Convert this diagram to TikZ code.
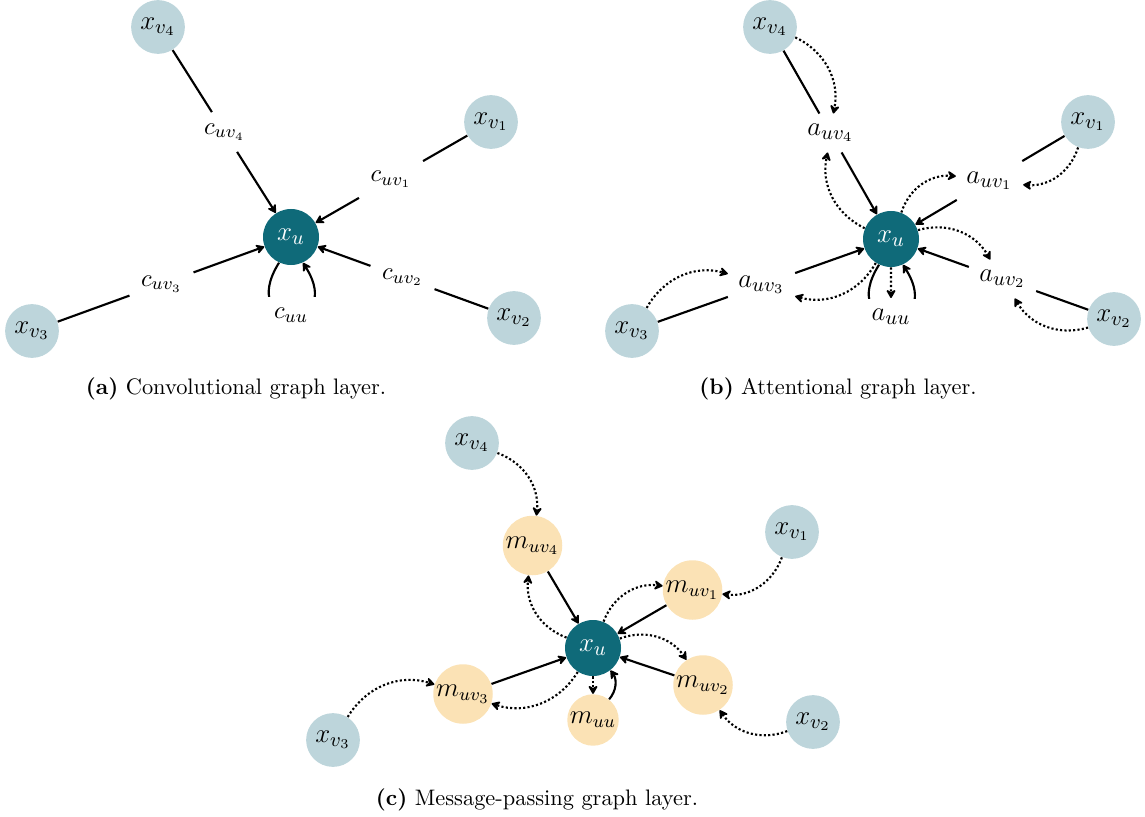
\documentclass[tikz,border=0pt]{standalone}
\usetikzlibrary{arrows.meta,calc}
\definecolor{nodeblue}{HTML}{BDD5DB}
\definecolor{centerteal}{HTML}{0F6A79}
\definecolor{msgpeach}{HTML}{FBE2B5}
\begin{document}
\begin{tikzpicture}[
  x=0.4464pt, y=0.4464pt,
  >={Stealth[length=4.6pt,width=5.2pt,inset=1.6pt,round]},
  ln/.style={line width=0.95pt},
  arr/.style={ln,->},
  dots/.style={ln,->,densely dotted},
  feat/.style={circle, fill=nodeblue, minimum size=24pt, inner sep=0pt, font=\fontsize{13}{15}\selectfont},
  hub/.style={circle, fill=centerteal, text=white, minimum size=25pt, inner sep=0pt, font=\fontsize{13}{15}\selectfont},
  coef/.style={inner sep=5pt, font=\fontsize{11}{13}\selectfont},
  att/.style={inner sep=4.5pt, font=\fontsize{13}{15}\selectfont},
  msg/.style={circle, fill=msgpeach, minimum size=26pt, inner sep=0.5pt, font=\fontsize{11.5}{13}\selectfont},
  subcap/.style={font=\normalsize}
]
\useasboundingbox (0,0) rectangle (1145,-817);

% ---------- (a) convolutional layer ----------
\node[hub]  (au)  at (291,-237) {$x_u$};
\node[feat] (av4) at (158,-27)  {$x_{v_4}$};
\node[feat] (av1) at (491,-122) {$x_{v_1}$};
\node[feat] (av3) at (32,-331)  {$x_{v_3}$};
\node[feat] (av2) at (514,-318) {$x_{v_2}$};
\node[coef] (ac4) at ($(av4)!0.5!(au)$) {$c_{uv_4}$};
\node[coef] (ac1) at ($(av1)!0.5!(au)$) {$c_{uv_1}$};
\node[coef] (ac3) at ($(av3)!0.5!(au)$) {$c_{uv_3}$};
\node[coef] (ac2) at ($(av2)!0.5!(au)$) {$c_{uv_2}$};
\foreach \k in {1,2,3,4} {
  \draw[ln] (av\k) -- (ac\k);
  \draw[arr] (ac\k) -- (au);
}
\draw[arr] (au.-115) .. controls +(-122:82) and +(-58:82) .. node[pos=0.5, coef, fill=white] (acuu) {$c_{uu}$} (au.-65);
\node[subcap] (capa) at (236,-389) {\textbf{(a)}\ Convolutional graph layer.};

% ---------- (b) attentional layer ----------
\node[hub]  (bu)  at (891,-239) {$x_u$};
\node[feat] (bv4) at (770,-27)  {$x_{v_4}$};
\node[feat] (bv1) at (1088,-122) {$x_{v_1}$};
\node[feat] (bv3) at (632,-331) {$x_{v_3}$};
\node[feat] (bv2) at (1114,-319) {$x_{v_2}$};
\node[att] (ba4) at ($(bv4)!0.5!(bu)$) {$a_{uv_4}$};
\node[att] (ba1) at ($(bv1)!0.5!(bu)$) {$a_{uv_1}$};
\node[att] (ba3) at ($(bv3)!0.5!(bu)$) {$a_{uv_3}$};
\node[att] (ba2) at ($(bv2)!0.5!(bu)$) {$a_{uv_2}$};
\foreach \k in {1,2,3,4} {
  \draw[ln] (bv\k) -- (ba\k);
  \draw[arr] (ba\k) -- (bu);
  \draw[dots] (bv\k) to[bend left=38] (ba\k);
  \draw[dots] (bu) to[bend left=38] (ba\k);
}
\draw[arr] (bu.-115) .. controls +(-122:82) and +(-58:82) .. node[pos=0.5, att, fill=white] (bauu) {$a_{uu}$} (bu.-65);
\draw[dots] (bu) -- (bauu);
\node[subcap] (capb) at (838,-389) {\textbf{(b)}\ Attentional graph layer.};

% ---------- (c) message-passing layer ----------
\node[hub]  (cu)  at (593,-648) {$x_u$};
\node[feat] (cv4) at (472,-443) {$x_{v_4}$};
\node[feat] (cv1) at (792,-532) {$x_{v_1}$};
\node[feat] (cv3) at (333,-740) {$x_{v_3}$};
\node[feat] (cv2) at (813,-722) {$x_{v_2}$};
\node[msg] (cm4) at ($(cv4)!0.5!(cu)$) {$m_{uv_4}$};
\node[msg] (cm1) at ($(cv1)!0.5!(cu)$) {$m_{uv_1}$};
\node[msg] (cm3) at ($(cv3)!0.5!(cu)$) {$m_{uv_3}$};
\node[msg] (cm2) at ($(cv2)!0.5!(cu)$) {$m_{uv_2}$};
\node[msg, minimum size=22pt] (cmuu) at (593,-720) {$m_{uu}$};
\foreach \k in {1,2,3,4} {
  \draw[arr] (cm\k) -- (cu);
  \draw[dots] (cv\k) to[bend left=38] (cm\k);
  \draw[dots] (cu) to[bend left=38] (cm\k);
}
\draw[dots] (cu) -- (cmuu);
\draw[arr] (cmuu) to[bend right=38] (cu);
\node[subcap] (capc) at (537,-800) {\textbf{(c)}\ Message-passing graph layer.};
\end{tikzpicture}
\end{document}
